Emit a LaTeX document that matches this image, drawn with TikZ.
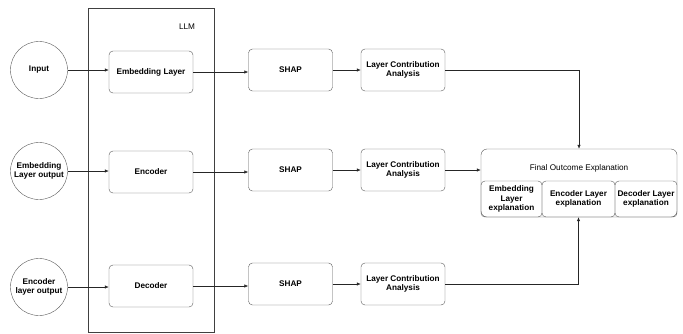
\documentclass[tikz,border=0pt]{standalone}
\usepackage{fontspec}
\setmainfont{Liberation Sans}
\usetikzlibrary{arrows.meta}
\tikzset{
  boldtext/.style={font=\bfseries\fontsize{8.2}{9.6}\selectfont, align=center},
  plaintext/.style={font=\fontsize{8.2}{9.6}\selectfont, align=center},
  inputnode/.style={boldtext, draw=black!65, circle, minimum size=57pt, inner sep=0pt},
  layerbox/.style={boldtext, draw=black!65, rounded corners=4pt, minimum width=84pt, minimum height=42pt, inner sep=1pt},
  explbox/.style={boldtext, draw=black!65, rounded corners=4pt, minimum height=36pt, inner sep=0pt},
  flow/.style={-{Latex[length=4pt,width=3.5pt]}, black!85, line width=0.6pt},
}

\begin{document}
\begin{tikzpicture}[x=1pt,y=-1pt]
  \useasboundingbox (0,0) rectangle (683,333);

  % LLM frame
  \node[draw=black!75, minimum width=126pt, minimum height=324pt, inner sep=0pt] (llm) at (151,170) {};
  \node[plaintext] (llmlabel) at (187,27) {LLM};

  % inputs
  \node[inputnode] (input) at (39,70) {Input};
  \node[inputnode] (embout) at (39,171) {Embedding\\Layer output};
  \node[inputnode] (encout) at (39,287) {Encoder\\layer output};

  % layers of the model
  \node[layerbox] (embed) at (151,72) {Embedding Layer};
  \node[layerbox] (encoder) at (151,172) {Encoder};
  \node[layerbox] (decoder) at (151,286) {Decoder};

  % SHAP and contribution analysis
  \node[layerbox] (shapa) at (290.5,70) {SHAP};
  \node[layerbox] (shapb) at (290.5,170) {SHAP};
  \node[layerbox] (shapc) at (290.5,284) {SHAP};
  \node[layerbox] (lcaa) at (403,70) {Layer Contribution\\Analysis};
  \node[layerbox] (lcab) at (403,170) {Layer Contribution\\Analysis};
  \node[layerbox] (lcac) at (403,284) {Layer Contribution\\Analysis};

  % final explanation
  \node[draw=black!65, rounded corners=6pt, minimum width=196pt, minimum height=68pt, inner sep=0pt] (final) at (579,183) {};
  \node[plaintext] (finaltitle) at (579,168) {Final Outcome Explanation};
  \node[explbox, minimum width=61pt] (embexpl) at (511.5,199) {Embedding\\Layer\\explanation};
  \node[explbox, minimum width=73pt] (encexpl) at (578.5,199) {Encoder Layer\\explanation};
  \node[explbox, minimum width=62pt] (decexpl) at (646,199) {Decoder Layer\\explanation};

  % connectors
  \draw[flow] (input.east) -- (input.east -| embed.west);
  \draw[flow] (embout.east) -- (embout.east -| encoder.west);
  \draw[flow] (encout.east) -- (encout.east -| decoder.west);
  \draw[flow] (embed.east) -- (embed.east -| shapa.west);
  \draw[flow] (encoder.east) -- (encoder.east -| shapb.west);
  \draw[flow] (decoder.east) -- (decoder.east -| shapc.west);
  \draw[flow] (shapa) -- (lcaa);
  \draw[flow] (shapb) -- (lcab);
  \draw[flow] (shapc) -- (lcac);
  \draw[flow] (lcaa.east) -| (final.north);
  \draw[flow] (lcab.east) -- (lcab.east -| final.west);
  \draw[flow] (lcac.east) -| (encexpl.south);
\end{tikzpicture}
\end{document}
